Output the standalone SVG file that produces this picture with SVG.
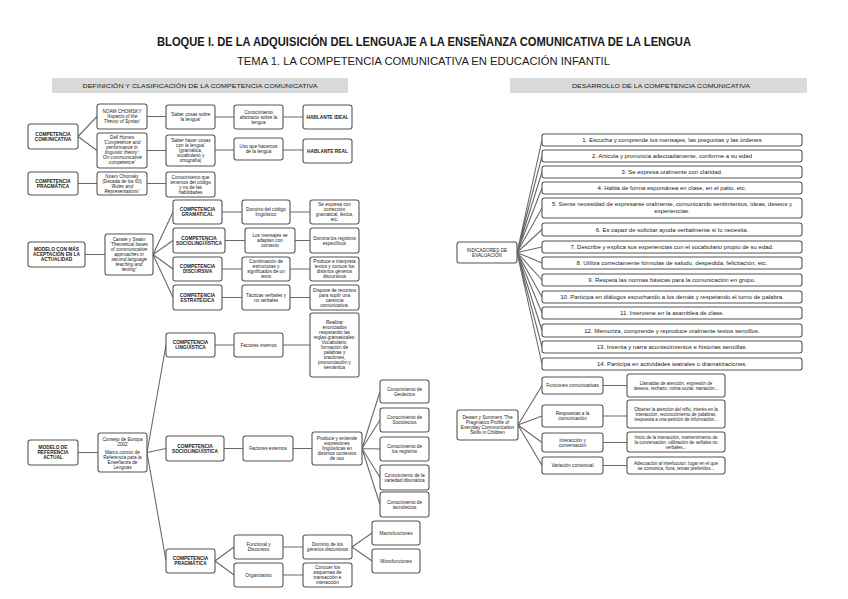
<svg xmlns="http://www.w3.org/2000/svg" width="848" height="599" viewBox="0 0 848 599">
<style>
text{font-family:"Liberation Sans",Arial,sans-serif;fill:#1a1a1a;text-anchor:middle}
.t{font-size:4.7px}
.s{font-size:4.5px}
.b{font-size:4.8px;font-weight:bold}
.i{font-style:italic}
.r{font-size:6px}
rect.n{fill:#fff;stroke:#555;stroke-width:1.1}
.hd{fill:#d9d9d9}
#connectors path{fill:none;stroke:#6a6a6a;stroke-width:1.1}
</style>
<rect width="848" height="599" fill="#fff"/>
<text x="424" y="46" font-size="12" font-weight="bold" textLength="534" lengthAdjust="spacingAndGlyphs">BLOQUE I. DE LA ADQUISICIÓN DEL LENGUAJE A LA ENSEÑANZA COMUNICATIVA DE LA LENGUA</text>
<text x="423.5" y="65" font-size="11" textLength="373" lengthAdjust="spacingAndGlyphs">TEMA 1. LA COMPETENCIA COMUNICATIVA EN EDUCACIÓN INFANTIL</text>
<g id="header-left"><rect class="hd" x="52" y="78" width="296" height="15"/><text x="200" y="87.5" font-size="5.5" textLength="235" lengthAdjust="spacingAndGlyphs">DEFINICIÓN Y CLASIFICACIÓN DE LA COMPETENCIA COMUNICATIVA</text></g>
<g id="header-right"><rect class="hd" x="510" y="78" width="297" height="15"/><text x="661" y="87.5" font-size="5.5" textLength="178" lengthAdjust="spacingAndGlyphs">DESARROLLO DE LA COMPETENCIA COMUNICATIVA</text></g>

<g id="connectors">
<path d="M78 136.5L97 116.5M78 136.5L97 150.5M147 116.5H166M215 117H234M283 117H303M147 150.5H166M215 150H234M283 150H303M78 183.5H97M147 183.5H166"/>
<path d="M85 254.5H105M153 254.5L173 212M153 254.5L173 240.5M153 254.5L173 269M153 254.5L173 297.5M222 212H242M225 240.5H245M222 269H242M222 297.5H242M290 212H310M295 240.5H310M290 269H310M290 297.5H310"/>
<path d="M78 452.5H98M147 452.5L166 345M147 452.5L166 448.5M147 452.5L166 561M215 345H234M283 345H310M224 448.5H243M293 448.5H312M362 448.5L380 391.5M362 448.5L380 420M362 448.5L380 449M362 448.5L380 477.5M362 448.5L380 504.5M215 561L234 547M215 561L234 575M283 547H303M283 575H303M352 547L372 533M352 547L372 561"/>
<path d="M517 252.5L542 140M517 252.5L542 156M517 252.5L542 172M517 252.5L542 188M517 252.5L542 208M517 252.5L542 229.5M517 252.5L542 247M517 252.5L542 263M517 252.5L542 280M517 252.5L542 297M517 252.5L542 313M517 252.5L542 330.5M517 252.5L542 347M517 252.5L542 364"/>
<path d="M518 425L542 385.5M518 425L542 416M518 425L542 442.5M518 425L542 465.5M603 385.5H627M603 416H627M603 442.5H627M603 465.5H627"/>
</g>

<g id="n-cc"><rect class="n" x="28" y="124" width="50" height="25" rx="2.5"/><text class="b" x="53" y="135.5">COMPETENCIA<tspan x="53" dy="5">COMUNICATIVA</tspan></text></g>
<g id="n-chomsky"><rect class="n" x="97" y="104" width="50" height="25" rx="2.5"/><text class="t" x="122" y="113">NOAM CHOMSKY<tspan class="i" x="122" dy="5">'Aspects of the</tspan><tspan class="i" x="122" dy="5">Theory of Syntax'</tspan></text></g>
<g id="n-hymes"><rect class="n" x="97" y="133" width="50" height="35" rx="2.5"/><text class="t" x="122" y="139">Dell Hymes<tspan class="i" x="122" dy="5">'Competence and</tspan><tspan class="i" x="122" dy="5">performance in</tspan><tspan class="i" x="122" dy="5">linguistic theory';</tspan><tspan class="i" x="122" dy="5">'On communicative</tspan><tspan class="i" x="122" dy="5">competence'</tspan></text></g>
<g id="n-saber"><rect class="n" x="166" y="105" width="49" height="24" rx="2.5"/><text class="t" x="190.5" y="116">'Saber cosas sobre<tspan x="190.5" dy="5">la lengua'</tspan></text></g>
<g id="n-saberhacer"><rect class="n" x="166" y="135" width="49" height="31" rx="2.5"/><text class="t" x="190.5" y="141.5">'Saber hacer cosas<tspan x="190.5" dy="5">con la lengua'</tspan><tspan x="190.5" dy="5">(gramática,</tspan><tspan x="190.5" dy="5">vocabulario y</tspan><tspan x="190.5" dy="5">ortografía)</tspan></text></g>
<g id="n-abstracto"><rect class="n" x="234" y="105" width="49" height="24" rx="2.5"/><text class="t" x="258.5" y="113.5">Conocimiento<tspan x="258.5" dy="5">abstracto sobre la</tspan><tspan x="258.5" dy="5">lengua</tspan></text></g>
<g id="n-uso"><rect class="n" x="234" y="138" width="49" height="22" rx="2.5"/><text class="t" x="258.5" y="148">Uso que hacemos<tspan x="258.5" dy="5">de la lengua</tspan></text></g>
<g id="n-ideal"><rect class="n" x="303" y="105" width="49" height="24" rx="2.5"/><text class="b" x="327.5" y="118.5">HABLANTE IDEAL</text></g>
<g id="n-real"><rect class="n" x="303" y="139" width="49" height="24" rx="2.5"/><text class="b" x="327.5" y="152.5">HABLANTE REAL</text></g>
<g id="n-cp"><rect class="n" x="28" y="172" width="50" height="23" rx="2.5"/><text class="b" x="53" y="182.5">COMPETENCIA<tspan x="53" dy="5">PRAGMÁTICA</tspan></text></g>
<g id="n-chomsky2"><rect class="n" x="97" y="172" width="50" height="23" rx="2.5"/><text class="t" x="122" y="177.5">Noam Chomsky<tspan x="122" dy="5">(Década de los 60)</tspan><tspan class="i" x="122" dy="5">'Rules and</tspan><tspan class="i" x="122" dy="5">Representations'</tspan></text></g>
<g id="n-codigo"><rect class="n" x="166" y="172" width="49" height="25" rx="2.5"/><text class="t" x="190.5" y="178.5">Conocimiento que<tspan x="190.5" dy="5">tenemos del código</tspan><tspan x="190.5" dy="5">y no de las</tspan><tspan x="190.5" dy="5">habilidades</tspan></text></g>

<g id="n-modelo"><rect class="n" x="28" y="242" width="57" height="25" rx="2.5"/><text class="b" x="56.5" y="251">MODELO CON MÁS<tspan x="56.5" dy="5">ACEPTACIÓN EN LA</tspan><tspan x="56.5" dy="5">ACTUALIDAD</tspan></text></g>
<g id="n-canale"><rect class="n" x="105" y="234" width="48" height="41" rx="2.5"/><text class="t" x="129" y="241">Canale y Swain<tspan class="i" x="129" dy="5">'Theoretical bases</tspan><tspan class="i" x="129" dy="5">of communicative</tspan><tspan class="i" x="129" dy="5">approaches in</tspan><tspan class="i" x="129" dy="5">second language</tspan><tspan class="i" x="129" dy="5">teaching and</tspan><tspan class="i" x="129" dy="5">testing'</tspan></text></g>
<g id="n-cg"><rect class="n" x="173" y="200" width="49" height="24" rx="2.5"/><text class="b" x="197.5" y="211">COMPETENCIA<tspan x="197.5" dy="5">GRAMATICAL</tspan></text></g>
<g id="n-cs"><rect class="n" x="173" y="228" width="52" height="25" rx="2.5"/><text class="b" x="199" y="239.5">COMPETENCIA<tspan x="199" dy="5">SOCIOLINGÜÍSTICA</tspan></text></g>
<g id="n-cd"><rect class="n" x="173" y="257" width="49" height="24" rx="2.5"/><text class="b" x="197.5" y="268">COMPETENCIA<tspan x="197.5" dy="5">DISCURSIVA</tspan></text></g>
<g id="n-ce"><rect class="n" x="173" y="285" width="49" height="25" rx="2.5"/><text class="b" x="197.5" y="296.5">COMPETENCIA<tspan x="197.5" dy="5">ESTRATÉGICA</tspan></text></g>
<g id="n-dominio"><rect class="n" x="242" y="200" width="48" height="24" rx="2.5"/><text class="t" x="266" y="211">Dominio del código<tspan x="266" dy="5">lingüístico</tspan></text></g>
<g id="n-mensajes"><rect class="n" x="245" y="228" width="50" height="25" rx="2.5"/><text class="t" x="270" y="237">Los mensajes se<tspan x="270" dy="5">adaptan con</tspan><tspan x="270" dy="5">contexto</tspan></text></g>
<g id="n-combinacion"><rect class="n" x="242" y="257" width="48" height="24" rx="2.5"/><text class="t" x="266" y="263">Combinación de<tspan x="266" dy="5">estructuras y</tspan><tspan x="266" dy="5">significados de un</tspan><tspan x="266" dy="5">texto</tspan></text></g>
<g id="n-tacticas"><rect class="n" x="242" y="285" width="48" height="25" rx="2.5"/><text class="t" x="266" y="296.5">Tácticas verbales y<tspan x="266" dy="5">no verbales</tspan></text></g>
<g id="n-expresa"><rect class="n" x="310" y="200" width="49" height="24" rx="2.5"/><text class="t" x="334.5" y="206">Se expresa con<tspan x="334.5" dy="5">corrección</tspan><tspan x="334.5" dy="5">gramatical, léxica,</tspan><tspan x="334.5" dy="5">etc.</tspan></text></g>
<g id="n-domina"><rect class="n" x="310" y="228" width="49" height="25" rx="2.5"/><text class="t" x="334.5" y="239.5">Domina los registros<tspan x="334.5" dy="5">específicos</tspan></text></g>
<g id="n-interpreta"><rect class="n" x="310" y="257" width="49" height="24" rx="2.5"/><text class="t" x="334.5" y="263">Produce e interpreta<tspan x="334.5" dy="5">textos y conoce los</tspan><tspan x="334.5" dy="5">distintos géneros</tspan><tspan x="334.5" dy="5">discursivos</tspan></text></g>
<g id="n-dispone"><rect class="n" x="310" y="285" width="49" height="25" rx="2.5"/><text class="t" x="334.5" y="291.5">Dispone de recursos<tspan x="334.5" dy="5">para suplir una</tspan><tspan x="334.5" dy="5">carencia</tspan><tspan x="334.5" dy="5">comunicativa.</tspan></text></g>

<g id="n-cl"><rect class="n" x="166" y="333" width="49" height="24" rx="2.5"/><text class="b" x="190.5" y="344">COMPETENCIA<tspan x="190.5" dy="5">LINGÜÍSTICA</tspan></text></g>
<g id="n-internos"><rect class="n" x="234" y="333" width="49" height="24" rx="2.5"/><text class="t" x="258.5" y="346.5">Factores internos</text></g>
<g id="n-realizar"><rect class="n" x="310" y="313" width="49" height="64" rx="2.5"/><text class="t" x="334.5" y="324">Realizar<tspan x="334.5" dy="5">enunciados</tspan><tspan x="334.5" dy="5">respetando las</tspan><tspan x="334.5" dy="5">reglas gramaticales:</tspan><tspan x="334.5" dy="5">Vocabulario,</tspan><tspan x="334.5" dy="5">formación de</tspan><tspan x="334.5" dy="5">palabras y</tspan><tspan x="334.5" dy="5">oraciones,</tspan><tspan x="334.5" dy="5">pronunciación y</tspan><tspan x="334.5" dy="5">semántica</tspan></text></g>
<g id="n-mra"><rect class="n" x="28" y="440" width="50" height="25" rx="2.5"/><text class="b" x="53" y="449">MODELO DE<tspan x="53" dy="5">REFERENCIA</tspan><tspan x="53" dy="5">ACTUAL</tspan></text></g>
<g id="n-consejo"><rect class="n" x="98" y="433" width="49" height="39" rx="2.5"/><text class="t" x="122.5" y="440.5">Consejo de Europa<tspan x="122.5" dy="5">2002</tspan><tspan x="122.5" dy="8.5">Marco común de</tspan><tspan x="122.5" dy="5">Referencia para la</tspan><tspan x="122.5" dy="5">Enseñanza de</tspan><tspan x="122.5" dy="5">Lenguas</tspan></text></g>
<g id="n-cs2"><rect class="n" x="166" y="436" width="58" height="25" rx="2.5"/><text class="b" x="195" y="447.5">COMPETENCIA<tspan x="195" dy="5">SOCIOLINGÜÍSTICA</tspan></text></g>
<g id="n-externos"><rect class="n" x="243" y="436" width="50" height="25" rx="2.5"/><text class="t" x="268" y="450">Factores externos</text></g>
<g id="n-entiende"><rect class="n" x="312" y="432" width="50" height="33" rx="2.5"/><text class="t" x="337" y="440">Produce y entiende<tspan x="337" dy="5">expresiones</tspan><tspan x="337" dy="5">lingüísticas en</tspan><tspan x="337" dy="5">distintos contextos</tspan><tspan x="337" dy="5">de uso</tspan></text></g>
<g id="n-geo"><rect class="n" x="380" y="380" width="49" height="23" rx="2.5"/><text class="t" x="404.5" y="390.5">Conocimiento de<tspan x="404.5" dy="5">Geolectos</tspan></text></g>
<g id="n-socio"><rect class="n" x="380" y="408" width="49" height="24" rx="2.5"/><text class="t" x="404.5" y="419">Conocimiento de<tspan x="404.5" dy="5">Sociolectos</tspan></text></g>
<g id="n-registros"><rect class="n" x="380" y="437" width="49" height="24" rx="2.5"/><text class="t" x="404.5" y="448">Conocimiento de<tspan x="404.5" dy="5">los registros</tspan></text></g>
<g id="n-variedad"><rect class="n" x="380" y="465" width="49" height="25" rx="2.5"/><text class="t" x="404.5" y="476.5">Conocimiento de la<tspan x="404.5" dy="5">variedad idiomática</tspan></text></g>
<g id="n-tecno"><rect class="n" x="380" y="492" width="49" height="25" rx="2.5"/><text class="t" x="404.5" y="503.5">Conocimiento de<tspan x="404.5" dy="5">tecnolectos</tspan></text></g>
<g id="n-cp2"><rect class="n" x="166" y="549" width="49" height="24" rx="2.5"/><text class="b" x="190.5" y="560">COMPETENCIA<tspan x="190.5" dy="5">PRAGMÁTICA</tspan></text></g>
<g id="n-funcional"><rect class="n" x="234" y="535" width="49" height="24" rx="2.5"/><text class="t" x="258.5" y="546">Funcional y<tspan x="258.5" dy="5">Discursivo</tspan></text></g>
<g id="n-organizativo"><rect class="n" x="234" y="563" width="49" height="24" rx="2.5"/><text class="t" x="258.5" y="576.5">Organizativo</text></g>
<g id="n-generos"><rect class="n" x="303" y="535" width="49" height="24" rx="2.5"/><text class="t" x="327.5" y="546">Dominio de los<tspan x="327.5" dy="5">géneros discursivos</tspan></text></g>
<g id="n-esquemas"><rect class="n" x="303" y="563" width="49" height="24" rx="2.5"/><text class="t" x="327.5" y="569">Conocer los<tspan x="327.5" dy="5">esquemas de</tspan><tspan x="327.5" dy="5">transacción e</tspan><tspan x="327.5" dy="5">interacción</tspan></text></g>
<g id="n-macro"><rect class="n" x="372" y="521" width="48" height="24" rx="2.5"/><text class="t" x="396" y="534.5">Macrofunciones</text></g>
<g id="n-micro"><rect class="n" x="372" y="549" width="48" height="24" rx="2.5"/><text class="t" x="396" y="562.5">Microfunciones</text></g>

<g id="n-indicadores"><rect class="n" x="457" y="242" width="60" height="21" rx="2.5"/><text class="t" x="487" y="251.5">INDICADORES DE<tspan x="487" dy="5">EVALUACIÓN</tspan></text></g>
<g id="n-i1"><rect class="n" x="542" y="134" width="260" height="12" rx="2.5"/><text class="r" x="672" y="142">1. Escucha y comprende los mensajes, las preguntas y las órdenes</text></g>
<g id="n-i2"><rect class="n" x="542" y="150" width="260" height="12" rx="2.5"/><text class="r" x="672" y="158">2. Articula y pronuncia adecuadamente, conforme a su edad</text></g>
<g id="n-i3"><rect class="n" x="542" y="166" width="260" height="12" rx="2.5"/><text class="r" x="672" y="174">3. Se expresa oralmente con claridad.</text></g>
<g id="n-i4"><rect class="n" x="542" y="182" width="260" height="12" rx="2.5"/><text class="r" x="672" y="190">4. Habla de forma espontánea en clase, en el patio, etc.</text></g>
<g id="n-i5"><rect class="n" x="542" y="198" width="260" height="20" rx="2.5"/><text class="r" x="672" y="205.5">5. Siente necesidad de expresarse oralmente, comunicando sentimientos, ideas, deseos y<tspan x="672" dy="7">experiencias.</tspan></text></g>
<g id="n-i6"><rect class="n" x="542" y="223" width="260" height="13" rx="2.5"/><text class="r" x="672" y="231.5">6. Es capaz de solicitar ayuda verbalmente si lo necesita.</text></g>
<g id="n-i7"><rect class="n" x="542" y="241" width="260" height="12" rx="2.5"/><text class="r" x="672" y="249">7. Describe y explica sus experiencias con el vocabulario propio de su edad.</text></g>
<g id="n-i8"><rect class="n" x="542" y="257" width="260" height="12" rx="2.5"/><text class="r" x="672" y="265">8. Utiliza correctamente fórmulas de saludo, despedida, felicitación, etc.</text></g>
<g id="n-i9"><rect class="n" x="542" y="274" width="260" height="12" rx="2.5"/><text class="r" x="672" y="282">9. Respeta las normas básicas para la comunicación en grupo.</text></g>
<g id="n-i10"><rect class="n" x="542" y="291" width="260" height="12" rx="2.5"/><text class="r" x="672" y="299">10. Participa en diálogos escuchando a los demás y respetando el turno de palabra.</text></g>
<g id="n-i11"><rect class="n" x="542" y="307" width="260" height="12" rx="2.5"/><text class="r" x="672" y="315">11. Interviene en la asamblea de clase.</text></g>
<g id="n-i12"><rect class="n" x="542" y="324" width="260" height="13" rx="2.5"/><text class="r" x="672" y="332.5">12. Memoriza, comprende y reproduce oralmente textos sencillos.</text></g>
<g id="n-i13"><rect class="n" x="542" y="341" width="260" height="12" rx="2.5"/><text class="r" x="672" y="349">13. Inventa y narra acontecimientos e historias sencillas.</text></g>
<g id="n-i14"><rect class="n" x="542" y="358" width="260" height="12" rx="2.5"/><text class="r" x="672" y="366">14. Participa en actividades teatrales o dramatizaciones.</text></g>

<g id="n-dewart"><rect class="n" x="457" y="410" width="61" height="30" rx="2.5"/><text class="t" x="487.5" y="419">Dewart y Summers 'The<tspan x="487.5" dy="5">Pragmatics Profile of</tspan><tspan x="487.5" dy="5">Everyday Communication</tspan><tspan x="487.5" dy="5">Skills in Children</tspan></text></g>
<g id="n-funciones"><rect class="n" x="542" y="377" width="61" height="17" rx="2.5"/><text class="t" x="572.5" y="387">Funciones comunicativas</text></g>
<g id="n-llamadas"><rect class="n" x="627" y="374" width="98" height="23" rx="2.5"/><text class="s" x="676" y="384.5">Llamadas de atención, expresión de<tspan x="676" dy="5">deseos, rechazo, rutina social, narración...</tspan></text></g>
<g id="n-respuestas"><rect class="n" x="542" y="405" width="61" height="22" rx="2.5"/><text class="t" x="572.5" y="415">Respuestas a la<tspan x="572.5" dy="5">comunicación</tspan></text></g>
<g id="n-obtener"><rect class="n" x="627" y="400" width="98" height="28" rx="2.5"/><text class="s" x="676" y="410.5">Obtener la atención del niño, interés en la<tspan x="676" dy="5">interacción, reconocimiento de palabras,</tspan><tspan x="676" dy="5">respuesta a una petición de información...</tspan></text></g>
<g id="n-interaccion"><rect class="n" x="542" y="433" width="61" height="19" rx="2.5"/><text class="t" x="572.5" y="441.5">Interacción y<tspan x="572.5" dy="5">conversación</tspan></text></g>
<g id="n-inicio"><rect class="n" x="627" y="432" width="98" height="20" rx="2.5"/><text class="s" x="676" y="438.5">Inicio de la interacción, mantenimiento de<tspan x="676" dy="5">la conversación, utilización de señales no</tspan><tspan x="676" dy="5">verbales...</tspan></text></g>
<g id="n-variacion"><rect class="n" x="542" y="457" width="61" height="17" rx="2.5"/><text class="t" x="572.5" y="467">Variación contextual</text></g>
<g id="n-adecuacion"><rect class="n" x="627" y="457" width="98" height="17" rx="2.5"/><text class="s" x="676" y="464.5">Adecuación al interlocutor, lugar en el que<tspan x="676" dy="5">se comunica, hora, temas preferidos...</tspan></text></g>
</svg>
